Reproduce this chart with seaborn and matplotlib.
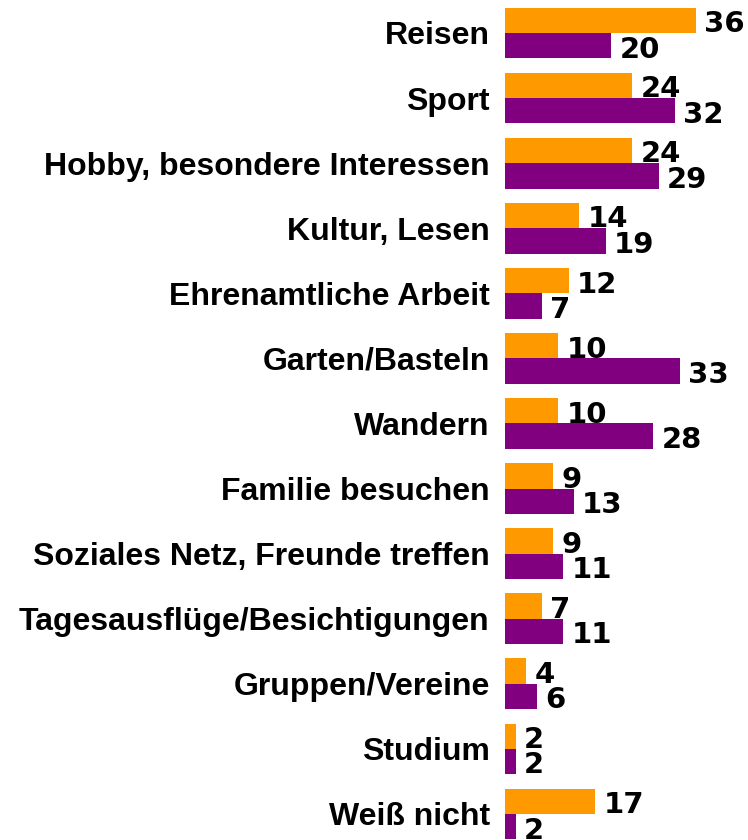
#Import Libraries
import pandas as pd
import numpy as np
import matplotlib.pyplot as plt
import seaborn as sns


#Building dataset
df = pd.DataFrame({
    'Aktivitaet': ['Reisen', 'Sport', 'Hobby, besondere Interessen', 'Kultur, Lesen',
                   'Ehrenamtliche Arbeit', 'Garten/Basteln', 'Wandern', 'Familie besuchen',
                   'Soziales Netz, Freunde treffen', 'Tagesausflüge/Besichtigungen',
                   'Gruppen/Vereine', 'Studium', 'Weiß nicht'],
    'Reihe 1': [36, 24, 24, 14, 12, 10, 10, 9, 9, 7, 4, 2, 17],
    'Reihe 2': [20, 32, 29, 19, 7, 33, 28, 13, 11, 11, 6, 2, 2],
})
df = df.melt(id_vars='Aktivitaet', var_name='Reihe', value_name='Prozent')


#Visualizing the activities as grouped bars
plt.figure(1, figsize=(7.48, 8.4), dpi=100)
plt.subplots_adjust(left=505/748, right=1, top=1, bottom=0)
ax = sns.barplot(y='Aktivitaet', x='Prozent', hue='Reihe', data=df, orient='h',
                 palette=['#FF9900', '#800080'], width=0.78, errorbar=None, saturation=1)
for bars in ax.containers:
    labels = ax.bar_label(bars, padding=6, fontsize=21, fontweight='bold',
                          family='DejaVu Sans', color='black')
    for t in labels:
        t.xyann = (6, -2.8)   # push numbers a little below bar centre

plt.xlim(0, 243/5.3)
plt.ylim(12.40, -0.507)
plt.xticks([])
plt.yticks(fontsize=23, fontweight='bold', family='Liberation Sans')
ax.tick_params(axis='y', length=0, pad=11)
plt.xlabel('')
plt.ylabel('')
ax.legend_.remove()
sns.despine(left=True, bottom=True)
plt.savefig('out.png', dpi=100)
